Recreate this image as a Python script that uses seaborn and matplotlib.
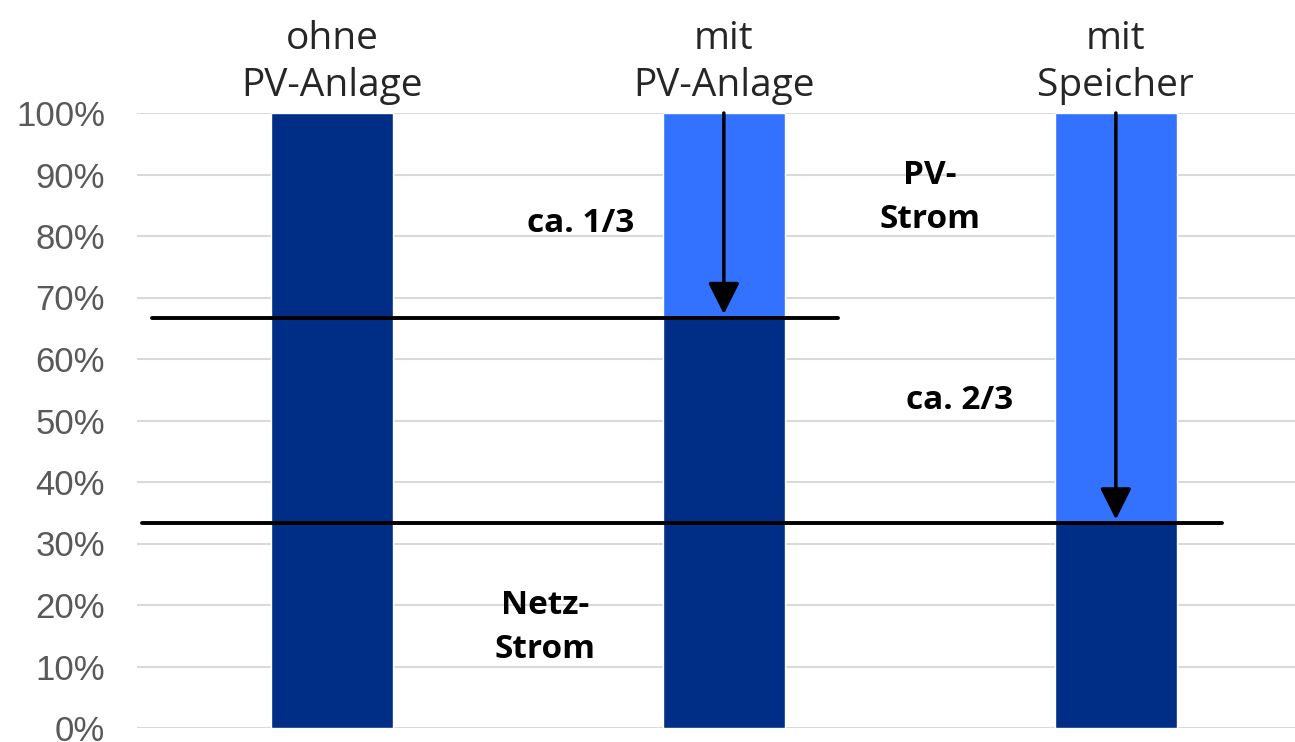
import matplotlib
matplotlib.use("Agg")
import matplotlib.pyplot as plt
import pandas as pd
import seaborn as sns

# chart values
categories = ["ohne\nPV-Anlage", "mit\nPV-Anlage", "mit\nSpeicher"]
netz_strom = [100, 66.7, 33.3]
pv_strom = [0, 33.3, 66.7]

df = pd.DataFrame({"cat": categories, "netz": netz_strom, "pv": pv_strom})
df["total"] = df["netz"] + df["pv"]

sns.set_style("white")
plt.rcParams["font.family"] = ["Open Sans", "DejaVu Sans"]

fig = plt.figure(figsize=(12.95, 7.42), dpi=100)
ax = fig.add_axes([137 / 1295, 14 / 742, 1 - 137 / 1295, (728 - 113) / 742])

# light blue = total (PV part shows above the grid part)
sns.barplot(data=df, x="cat", y="total", color="#3372FF", width=0.31,
            saturation=1, ax=ax, zorder=2)
sns.barplot(data=df, x="cat", y="netz", color="#002D86", width=0.31,
            saturation=1, ax=ax, zorder=3)

ax.set_xlim(-0.497, 2.457)
ax.set_ylim(0, 100)
ax.set_yticks(range(0, 101, 10))
ax.set_yticklabels([f"{v}%" for v in range(0, 101, 10)],
                   fontsize=25, color="#595959", family="Liberation Sans")
ax.yaxis.grid(True, color="#d9d9d9", lw=1.5, zorder=0)
ax.set_axisbelow(True)
ax.tick_params(axis="y", length=0, pad=23)

ax.xaxis.tick_top()
ax.tick_params(axis="x", length=0, pad=6)
for lbl in ax.get_xticklabels():
    lbl.set_fontsize(28)
    lbl.set_linespacing(1.3)
ax.set_xlabel("")
ax.set_ylabel("")
for s in ax.spines.values():
    s.set_visible(False)

# reference levels
ax.plot([-0.459, 1.29], [netz_strom[1], netz_strom[1]], color="black", lw=2.8, zorder=5)
ax.plot([-0.485, 2.27], [netz_strom[2], netz_strom[2]], color="black", lw=2.8, zorder=5)

# arrows
for i in (1, 2):
    ax.annotate("", xy=(i, netz_strom[i] + 0.6), xytext=(i, 100),
                arrowprops=dict(arrowstyle="-|>,head_length=0.4,head_width=0.2",
                                mutation_scale=48, lw=2.5, color="black",
                                shrinkA=0, shrinkB=0), zorder=6)

txt = dict(fontsize=24, fontweight="bold", ha="center", va="center",
           linespacing=1.45, color="black")
ax.text(0.635, 82.1, "ca. 1/3", **txt)
ax.text(1.526, 86.3, "PV-\nStrom", **txt)
ax.text(1.602, 53.3, "ca. 2/3", **txt)
ax.text(0.543, 16.4, "Netz-\nStrom", **txt)

fig.savefig("out.png", dpi=100)
